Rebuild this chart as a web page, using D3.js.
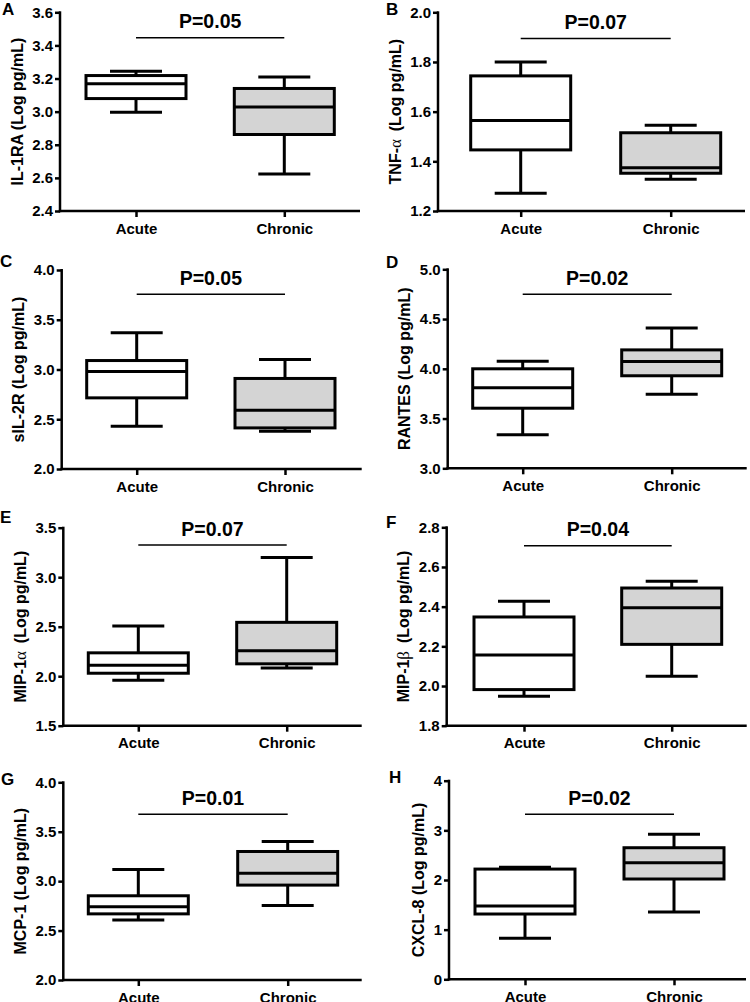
<!DOCTYPE html>
<html>
<head>
<meta charset="utf-8">
<script src="https://cdn.jsdelivr.net/npm/d3@7"></script>
<style>
  body { margin: 0; background: #fff; }
  svg { display: block; }
  text { font-family: "Liberation Sans", Arial, sans-serif; font-weight: bold; fill: #000; }
</style>
</head>
<body>
<div id="graph"></div>
<script>
// ---- data ----
var groups = ["Acute", "Chronic"];
var panelLetters = ["A", "B", "C", "D", "E", "F", "G", "H"];
// y title: [before greek, greek, after greek]
var yTitles = [
  ["IL-1RA", "", " (Log pg/mL)"],
  ["TNF-", "\u03b1", " (Log pg/mL)"],
  ["sIL-2R", "", " (Log pg/mL)"],
  ["RANTES", "", " (Log pg/mL)"],
  ["MIP-1", "\u03b1", " (Log pg/mL)"],
  ["MIP-1", "\u03b2", " (Log pg/mL)"],
  ["MCP-1", "", " (Log pg/mL)"],
  ["CXCL-8", "", " (Log pg/mL)"]
];
var yDomains = [[2.4, 3.6], [1.2, 2.0], [2, 4], [3, 5], [1.5, 3.5], [1.8, 2.8], [2, 4], [0, 4]];
var yTicks = [
  [2.4, 2.6, 2.8, 3.0, 3.2, 3.4, 3.6],
  [1.2, 1.4, 1.6, 1.8, 2.0],
  [2.0, 2.5, 3.0, 3.5, 4.0],
  [3.0, 3.5, 4.0, 4.5, 5.0],
  [1.5, 2.0, 2.5, 3.0, 3.5],
  [1.8, 2.0, 2.2, 2.4, 2.6, 2.8],
  [2.0, 2.5, 3.0, 3.5, 4.0],
  [0, 1, 2, 3, 4]
];
var tickDecimals = [1, 1, 1, 1, 1, 1, 1, 0];
var pLabels = ["P=0.05", "P=0.07", "P=0.05", "P=0.02", "P=0.07", "P=0.04", "P=0.01", "P=0.02"];
var sigLineY = [3.447, 1.895, 3.756, 4.749, 3.325, 2.707, 3.676, 3.323];
// [min, q1, median, q3, max]
var acuteStats = [
  [2.996, 3.079, 3.168, 3.218, 3.244],
  [1.271, 1.446, 1.564, 1.744, 1.800],
  [2.43, 2.715, 2.98, 3.09, 3.369],
  [3.336, 3.604, 3.81, 4.0, 4.077],
  [1.96, 2.03, 2.111, 2.236, 2.507],
  [1.948, 1.982, 2.156, 2.348, 2.427],
  [2.608, 2.669, 2.74, 2.852, 3.118],
  [0.826, 1.315, 1.477, 2.22, 2.255]
];
var chronicStats = [
  [2.624, 2.862, 3.028, 3.14, 3.21],
  [1.328, 1.352, 1.374, 1.515, 1.545],
  [2.38, 2.413, 2.59, 2.91, 3.1],
  [3.744, 3.93, 4.074, 4.19, 4.41],
  [2.084, 2.125, 2.256, 2.544, 3.199],
  [2.049, 2.21, 2.395, 2.494, 2.528],
  [2.754, 2.96, 3.081, 3.30, 3.402],
  [1.356, 2.02, 2.349, 2.65, 2.92]
];
var groupFill = ["#ffffff", "#d4d4d4"];

// ---- layout (pixels) ----
var layout = [
  {x0: 60,    x1: 360,   c: [136, 284.3],   top: 12.3,  bottom: 211,   lx: 2,   ly: 15},
  {x0: 438,   x1: 745,   c: [520.7, 670.7], top: 12.3,  bottom: 211,   lx: 386, ly: 15},
  {x0: 61.7,  x1: 361.7, c: [136.7, 285],   top: 270,   bottom: 469,   lx: 0,   ly: 267},
  {x0: 447.7, x1: 746.7, c: [522.7, 671.7], top: 269.3, bottom: 468.3, lx: 386, ly: 268},
  {x0: 63.3,  x1: 361.7, c: [138.3, 286.7], top: 527.7, bottom: 725.7, lx: 0,   ly: 523},
  {x0: 446.7, x1: 746.7, c: [524, 671.7],   top: 527.3, bottom: 725.7, lx: 386, ly: 528},
  {x0: 63.3,  x1: 361.7, c: [138.3, 287.7], top: 782.3, bottom: 980,   lx: 1,   ly: 785},
  {x0: 449,   x1: 746,   c: [525, 674],     top: 780.7, bottom: 979.3, lx: 389, ly: 783}
];
var boxWidth = 100, capWidth = 52;

var svg = d3.select("#graph").append("svg")
  .attr("width", 750)
  .attr("height", 1002);

for (var i = 0; i < 8; i++) {
  draw_panel(i);
}

function draw_panel(i) {
  var L = layout[i];
  var g = svg.append("g");

  var yscale = d3.scaleLinear().domain(yDomains[i]).range([L.bottom, L.top]);
  var xscale = d3.scalePoint().domain(groups).range(L.c);

  // y axis
  var yAxis = g.append("g")
    .attr("transform", "translate(" + L.x0 + ",0)")
    .call(d3.axisLeft(yscale).tickValues(yTicks[i])
      .tickFormat(d3.format("." + tickDecimals[i] + "f"))
      .tickSize(5).tickPadding(2).tickSizeOuter(0));
  yAxis.select(".domain").remove();
  yAxis.selectAll("line").attr("stroke", "#000").attr("stroke-width", 2.5);
  yAxis.selectAll("text").attr("font-size", 15).attr("fill", "#000");
  g.append("line")
    .attr("x1", L.x0).attr("x2", L.x0)
    .attr("y1", L.top - 1).attr("y2", L.bottom + 1.2)
    .attr("stroke", "#000").attr("stroke-width", 2.5);

  // x axis
  var xAxis = g.append("g")
    .attr("transform", "translate(0," + L.bottom + ")")
    .call(d3.axisBottom(xscale).tickSize(6).tickPadding(6).tickSizeOuter(0));
  xAxis.select(".domain").remove();
  xAxis.selectAll("line").attr("stroke", "#000").attr("stroke-width", 2.5);
  xAxis.selectAll("text").attr("font-size", 15).attr("fill", "#000");
  g.append("line")
    .attr("x1", L.x0 - 1.2).attr("x2", L.x1)
    .attr("y1", L.bottom).attr("y2", L.bottom)
    .attr("stroke", "#000").attr("stroke-width", 2.5);

  // y title, placed left of the tick labels
  var bb = yAxis.node().getBBox();
  var labelsLeft = L.x0 + bb.x;
  var tx = labelsLeft - 15;
  var ty = (L.top + L.bottom) / 2;
  var title = g.append("text")
    .attr("transform", "translate(" + tx + "," + ty + ") rotate(-90)")
    .attr("text-anchor", "middle")
    .attr("dy", "0.35em")
    .attr("font-size", 16);
  title.append("tspan").text(yTitles[i][0]);
  if (yTitles[i][1]) {
    title.append("tspan")
      .style("font-family", "'Liberation Serif', 'DejaVu Serif', serif")
      .style("font-weight", "normal")
      .attr("font-size", 17)
      .text(yTitles[i][1] + "\u2009");
  }
  title.append("tspan").text(yTitles[i][2]);

  // boxes
  var stats = [acuteStats[i], chronicStats[i]];
  stats.forEach(function (s, k) {
    var cx = xscale(groups[k]);
    var bg = g.append("g");
    // whiskers
    bg.append("line")
      .attr("x1", cx).attr("x2", cx)
      .attr("y1", yscale(s[4])).attr("y2", yscale(s[3]))
      .attr("stroke", "#000").attr("stroke-width", 3);
    bg.append("line")
      .attr("x1", cx).attr("x2", cx)
      .attr("y1", yscale(s[1])).attr("y2", yscale(s[0]))
      .attr("stroke", "#000").attr("stroke-width", 3);
    [s[0], s[4]].forEach(function (v) {
      bg.append("line")
        .attr("x1", cx - capWidth / 2).attr("x2", cx + capWidth / 2)
        .attr("y1", yscale(v)).attr("y2", yscale(v))
        .attr("stroke", "#000").attr("stroke-width", 3);
    });
    bg.append("rect")
      .attr("x", cx - boxWidth / 2)
      .attr("y", yscale(s[3]))
      .attr("width", boxWidth)
      .attr("height", yscale(s[1]) - yscale(s[3]))
      .attr("fill", groupFill[k])
      .attr("stroke", "#000").attr("stroke-width", 3);
    bg.append("line")
      .attr("x1", cx - boxWidth / 2).attr("x2", cx + boxWidth / 2)
      .attr("y1", yscale(s[2])).attr("y2", yscale(s[2]))
      .attr("stroke", "#000").attr("stroke-width", 3);
  });

  // significance bar and p value
  var sy = yscale(sigLineY[i]);
  g.append("line")
    .attr("x1", xscale(groups[0])).attr("x2", xscale(groups[1]))
    .attr("y1", sy).attr("y2", sy)
    .attr("stroke", "#000").attr("stroke-width", 1.5);
  g.append("text")
    .attr("x", (xscale(groups[0]) + xscale(groups[1])) / 2)
    .attr("y", sy - 9.5)
    .attr("text-anchor", "middle")
    .attr("font-size", 19.5)
    .text(pLabels[i]);

  // panel letter
  g.append("text")
    .attr("x", L.lx).attr("y", L.ly)
    .attr("font-size", 17)
    .text(panelLetters[i]);
}
</script>
</body>
</html>
